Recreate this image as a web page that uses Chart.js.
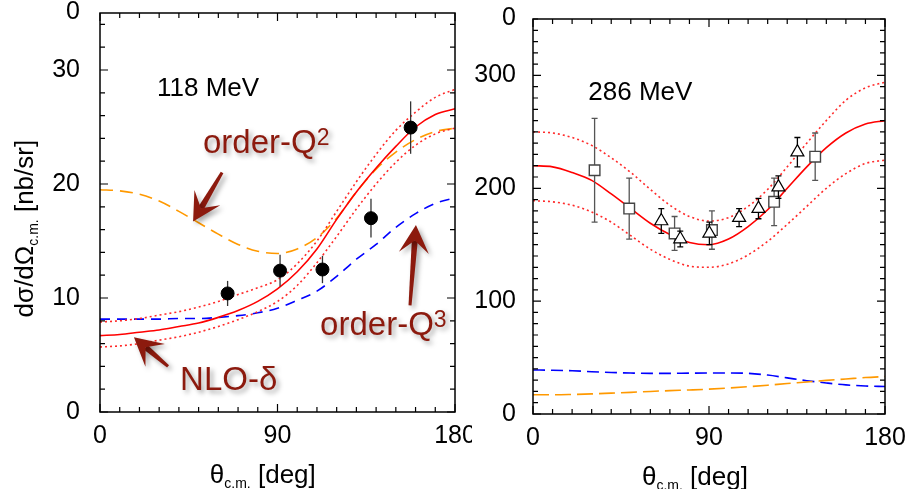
<!DOCTYPE html>
<html>
<head>
<meta charset="utf-8">
<script src="https://cdn.jsdelivr.net/npm/chart.js@4.4.1/dist/chart.umd.min.js"></script>
<style>
  body { margin: 0; background: #fff; width: 907px; height: 489px; overflow: hidden; position: relative; }
  #c118 { position: absolute; left: 0; top: 0; }
  #c286 { position: absolute; left: 472px; top: 0; background: #fff; }
</style>
</head>
<body>
<canvas id="c118" width="474" height="489"></canvas>
<canvas id="c286" width="435" height="489"></canvas>
<script>
// angles of the theory curves [deg]
var angles = [0, 10, 20, 30, 40, 50, 60, 70, 80, 90, 100, 110, 120, 130, 140, 150, 160, 170, 180];

// 118 MeV panel
var nloDelta118    = [6.7, 6.8, 7.0, 7.2, 7.5, 7.8, 8.3, 8.9, 9.7, 10.8, 12.3, 14.3, 16.9, 19.3, 21.4, 23.3, 25.0, 26.1, 26.6];
var nloDeltaUp118  = [7.9, 8.0, 8.2, 8.5, 8.8, 9.2, 9.7, 10.3, 10.9, 11.6, 13.0, 15.0, 17.6, 20.2, 22.6, 24.7, 26.3, 27.6, 28.3];
var nloDeltaLow118 = [5.7, 5.8, 6.0, 6.3, 6.6, 7.0, 7.5, 8.1, 8.8, 9.7, 11.1, 13.1, 15.4, 17.8, 20.0, 21.9, 23.4, 24.4, 24.9];
var orderQ2_118    = [19.5, 19.4, 19.1, 18.5, 17.6, 16.6, 15.6, 14.7, 14.1, 13.9, 14.3, 15.3, 17.0, 19.3, 21.3, 22.8, 23.9, 24.6, 24.9];
var orderQ3_118    = [8.15, 8.15, 8.15, 8.15, 8.2, 8.2, 8.3, 8.45, 8.7, 9.1, 9.8, 10.6, 11.9, 13.4, 14.7, 16.2, 17.4, 18.3, 18.8];
var dataAngle118 = [64.7, 91.3, 112.8, 137.4, 157.5];
var dataValue118 = [10.4, 12.4, 12.5, 17.0, 24.95];
var dataError118 = [1.1, 1.4, 1.2, 1.7, 2.3];

// 286 MeV panel
var nloDelta286    = [220, 219, 214, 207, 195, 182, 169, 159, 152, 150, 155, 166, 181, 200, 219, 236, 249, 257, 260];
var nloDeltaUp286  = [250, 249, 245, 238, 227, 214, 199, 185, 175, 171, 174, 184, 199, 219, 240, 260, 278, 289, 294];
var nloDeltaLow286 = [189, 188, 185, 179, 170, 158, 146, 137, 131, 130, 133, 141, 153, 168, 184, 200, 213, 222, 225];
var orderQ2_286    = [17, 17, 17.3, 17.8, 18.5, 19.2, 20, 20.7, 21.3, 22, 23, 24.2, 25.5, 27, 28.3, 29.8, 31, 32.3, 33.2];
var orderQ3_286    = [39, 38.8, 38.3, 37.5, 36.8, 36.3, 36, 36, 36.2, 36.3, 36.3, 36, 34.5, 32, 29.5, 27.5, 25.8, 24.8, 24.4];
var squareAngle286 = [31.5, 49.2, 72.4, 91.5, 123.3, 144.3];
var squareValue286 = [216, 182, 160, 163, 188, 228];
var squareError286 = [46, 27, 15, 17, 21, 21];
var triAngle286 = [65.6, 75.3, 90.2, 105.4, 115.3, 125.5, 135.2];
var triValue286 = [171, 155, 160, 174, 182, 201, 232];
var triError286 = [11, 7, 10, 8, 9, 10, 13];

// tick labels
var xTicks = [0, 90, 180];
var yTicks118 = [0, 10, 20, 30];
var yTicks286 = [0, 100, 200, 300];

var FONT = '"Liberation Sans", Arial, Helvetica, sans-serif';
var ANNO = '#8c1a0e';

function series(xs, ys) {
  return xs.map(function (x, i) { return {x: x, y: ys[i]}; });
}

function curve(values, color, dash) {
  return {
    data: series(angles, values), showLine: true, borderColor: color, borderWidth: 1.6,
    borderDash: dash || [], pointRadius: 0, cubicInterpolationMode: 'monotone', fill: false
  };
}

function drawRich(ctx, parts, x, y) {
  parts.forEach(function (p) {
    ctx.font = p.size + 'px ' + FONT;
    ctx.fillText(p.t, x, y + (p.dy || 0));
    x += ctx.measureText(p.t).width;
  });
}

function drawArrow(ctx, x0, y0, x1, y1) {
  var dx = x1 - x0, dy = y1 - y0, len = Math.sqrt(dx * dx + dy * dy);
  var ux = dx / len, uy = dy / len, nx = -uy, ny = ux;
  var hl = 28, hw = 15;
  var bx = x1 - ux * hl, by = y1 - uy * hl;
  var kx = x1 - ux * hl * 0.55, ky = y1 - uy * hl * 0.55;
  ctx.beginPath();
  ctx.moveTo(x0 + nx * 1.5, y0 + ny * 1.5);
  ctx.lineTo(kx + nx * 3, ky + ny * 3);
  ctx.lineTo(kx - nx * 3, ky - ny * 3);
  ctx.lineTo(x0 - nx * 1.5, y0 - ny * 1.5);
  ctx.closePath();
  ctx.fill();
  ctx.beginPath();
  ctx.moveTo(x1, y1);
  ctx.lineTo(bx + nx * hw, by + ny * hw);
  ctx.lineTo(kx, ky);
  ctx.lineTo(bx - nx * hw, by - ny * hw);
  ctx.closePath();
  ctx.fill();
}

function panelPlugin(spec) {
  return {
    id: 'panel',
    beforeDatasetDraw: function (chart, args) {
      var ds = chart.data.datasets[args.index];
      if (!ds.errorBars) return;
      var ctx = chart.ctx, xs = chart.scales.x, ys = chart.scales.y;
      ctx.save();
      ctx.strokeStyle = ds.errorColor;
      ctx.lineWidth = 1.3;
      ds.data.forEach(function (p, i) {
        var e = ds.errorBars[i];
        var px = xs.getPixelForValue(p.x);
        var y0 = ys.getPixelForValue(p.y - e), y1 = ys.getPixelForValue(p.y + e);
        ctx.beginPath();
        ctx.moveTo(px, y0); ctx.lineTo(px, y1);
        if (ds.errorCap) {
          ctx.moveTo(px - ds.errorCap, y0); ctx.lineTo(px + ds.errorCap, y0);
          ctx.moveTo(px - ds.errorCap, y1); ctx.lineTo(px + ds.errorCap, y1);
        }
        ctx.stroke();
      });
      ctx.restore();
    },
    afterDraw: function (chart) {
      var ctx = chart.ctx, a = chart.chartArea, xs = chart.scales.x, ys = chart.scales.y;
      ctx.save();
      // frame
      ctx.strokeStyle = '#000';
      ctx.lineWidth = 1.5;
      ctx.strokeRect(a.left, a.top, a.right - a.left, a.bottom - a.top);
      // inward ticks on all four sides
      ctx.lineWidth = 1.2;
      ctx.beginPath();
      for (var v = xs.min; v <= xs.max + 1e-9; v += spec.xMinor) {
        var px = xs.getPixelForValue(v);
        var l = xTicks.indexOf(v) >= 0 ? 8 : 5;
        ctx.moveTo(px, a.bottom); ctx.lineTo(px, a.bottom - l);
        ctx.moveTo(px, a.top); ctx.lineTo(px, a.top + l);
      }
      for (var w = ys.min; w <= ys.max + 1e-9; w += spec.yMinor) {
        var py = ys.getPixelForValue(w);
        var m = spec.yTicks.indexOf(w) >= 0 ? 8 : 5;
        ctx.moveTo(a.left, py); ctx.lineTo(a.left + m, py);
        ctx.moveTo(a.right, py); ctx.lineTo(a.right - m, py);
      }
      ctx.stroke();
      // leftover label of the panel above
      ctx.fillStyle = '#000';
      ctx.textAlign = 'right';
      ctx.textBaseline = 'alphabetic';
      ctx.font = '25px ' + FONT;
      ctx.fillText('0', a.left - spec.labelGap, a.top + 6);
      ctx.textAlign = 'left';
      // energy label
      ctx.font = '26px ' + FONT;
      ctx.fillText(spec.energy.t, xs.getPixelForValue(spec.energy.x), ys.getPixelForValue(spec.energy.y));
      // x title
      drawRich(ctx, [{t: '\u03b8', size: 26}, {t: 'c.m.', size: 14, dy: 5}, {t: ' [deg]', size: 26}],
        xs.getPixelForValue(55.7), a.bottom + 71);
      // y title
      if (spec.yTitle) {
        ctx.save();
        ctx.translate(33, ys.getPixelForValue(spec.yTitle));
        ctx.rotate(-Math.PI / 2);
        drawRich(ctx, [{t: 'd\u03c3/d\u03a9', size: 26}, {t: 'c.m.', size: 14, dy: 5}, {t: ' [nb/sr]', size: 26}], 0, 0);
        ctx.restore();
      }
      // annotations with shadow
      ctx.fillStyle = ANNO;
      ctx.shadowColor = 'rgba(0,0,0,0.35)';
      ctx.shadowBlur = 5;
      ctx.shadowOffsetX = 3;
      ctx.shadowOffsetY = 3;
      (spec.notes || []).forEach(function (n) {
        drawRich(ctx, n.parts, xs.getPixelForValue(n.x), ys.getPixelForValue(n.y));
      });
      (spec.arrows || []).forEach(function (r) {
        drawArrow(ctx, xs.getPixelForValue(r[0]), ys.getPixelForValue(r[1]),
          xs.getPixelForValue(r[2]), ys.getPixelForValue(r[3]));
      });
      ctx.restore();
    }
  };
}

function makeChart(id, datasets, spec) {
  return new Chart(document.getElementById(id), {
    type: 'scatter',
    data: {datasets: datasets},
    options: {
      responsive: false,
      animation: false,
      layout: {padding: {top: spec.top, right: spec.right, left: 0, bottom: 0}},
      plugins: {legend: {display: false}, tooltip: {enabled: false}},
      scales: {
        x: {
          type: 'linear', min: 0, max: 180,
          grid: {display: false, drawTicks: false}, border: {display: false},
          afterBuildTicks: function (s) { s.ticks = xTicks.map(function (v) { return {value: v}; }); },
          afterFit: function (s) { s.height = spec.bottom; s.paddingLeft = 0; s.paddingRight = 0; },
          ticks: {color: '#000', font: {family: FONT, size: 25}, padding: 9, maxRotation: 0, autoSkip: false}
        },
        y: {
          type: 'linear', min: 0, max: spec.yMax,
          grid: {display: false, drawTicks: false}, border: {display: false},
          afterBuildTicks: function (s) { s.ticks = spec.yTicks.map(function (v) { return {value: v}; }); },
          afterFit: function (s) { s.width = spec.left; s.paddingTop = 0; s.paddingBottom = 0; },
          ticks: {color: '#000', font: {family: FONT, size: 25}, padding: spec.labelGap, autoSkip: false}
        }
      }
    },
    plugins: [panelPlugin(spec)]
  });
}

makeChart('c118', [
  {data: series(dataAngle118, dataValue118), pointStyle: 'circle', pointRadius: 6.5,
   pointBackgroundColor: '#000', pointBorderColor: '#000', errorBars: dataError118, errorColor: '#333', errorCap: 0},
  curve(nloDelta118, '#ff0000'),
  curve(nloDeltaUp118, '#ff2a2a', [2, 3]),
  curve(nloDeltaLow118, '#ff2a2a', [2, 3]),
  curve(orderQ2_118, '#ff9900', [13, 7]),
  curve(orderQ3_118, '#0000ff', [10, 7])
], {
  yMax: 35, yTicks: yTicks118, xMinor: 10, yMinor: 2, top: 13, right: 19, left: 100, bottom: 77,
  labelGap: 20, yTitle: 8.3,
  energy: {t: '118 MeV', x: 28.9, y: 27.7},
  notes: [
    {x: 52.2, y: 22.75, parts: [{t: 'order-Q', size: 33}, {t: '2', size: 23, dy: -8}]},
    {x: 111.6, y: 6.74, parts: [{t: 'order-Q', size: 33}, {t: '3', size: 23, dy: -8}]},
    {x: 40.6, y: 1.93, parts: [{t: 'NLO-\u03b4', size: 33}]}
  ],
  arrows: [[61.9, 21.0, 47.2, 16.7], [157.2, 9.36, 160.2, 16.4], [34.5, 4.0, 17.2, 6.56]]
});

makeChart('c286', [
  {data: series(triAngle286, triValue286), pointStyle: 'triangle', pointRadius: 7.5,
   pointBackgroundColor: '#fff', pointBorderColor: '#000', pointBorderWidth: 1.2,
   errorBars: triError286, errorColor: '#000', errorCap: 3},
  {data: series(squareAngle286, squareValue286), pointStyle: 'rect', pointRadius: 7.5,
   pointBackgroundColor: '#fff', pointBorderColor: '#444', pointBorderWidth: 1.4,
   errorBars: squareError286, errorColor: '#555', errorCap: 3},
  curve(nloDelta286, '#ff0000'),
  curve(nloDeltaUp286, '#ff2a2a', [2, 3]),
  curve(nloDeltaLow286, '#ff2a2a', [2, 3]),
  curve(orderQ2_286, '#ff9900', [16, 6]),
  curve(orderQ3_286, '#0000ff', [12, 6])
], {
  yMax: 350, yTicks: yTicks286, xMinor: 10, yMinor: 10, top: 19, right: 22, left: 61, bottom: 75,
  labelGap: 17,
  energy: {t: '286 MeV', x: 28.3, y: 278.2}
});
</script>
</body>
</html>
